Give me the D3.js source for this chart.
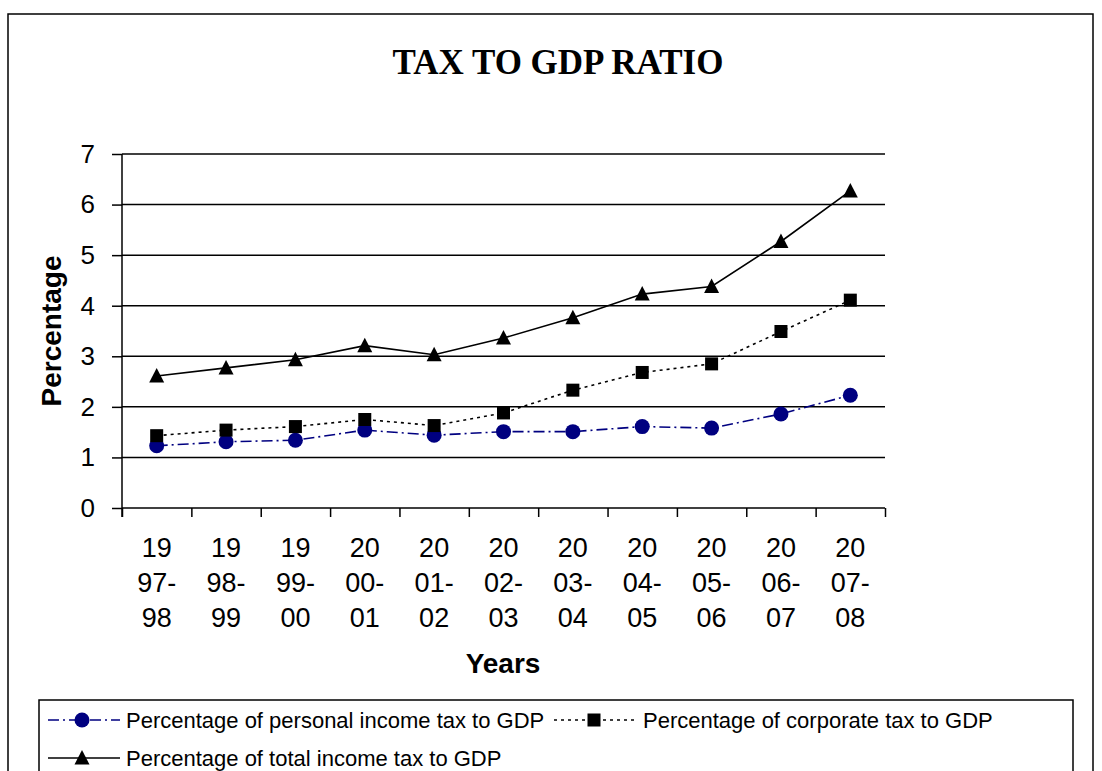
<!DOCTYPE html>
<html>
<head>
<meta charset="utf-8">
<script src="https://cdn.jsdelivr.net/npm/d3@7"></script>
<style>
  html, body { margin: 0; padding: 0; background: #fff; }
  svg { display: block; }
</style>
</head>
<body>
<svg id="chart" width="1102" height="771"></svg>
<script>
const title = "TAX TO GDP RATIO";
const categories = ["1997-98","1998-99","1999-00","2000-01","2001-02","2002-03","2003-04","2004-05","2005-06","2006-07","2007-08"];
const personalTax = [1.23, 1.31, 1.34, 1.54, 1.44, 1.51, 1.51, 1.61, 1.58, 1.86, 2.23];
const corporateTax = [1.43, 1.54, 1.61, 1.75, 1.63, 1.88, 2.33, 2.68, 2.85, 3.49, 4.11];
const totalTax = [2.61, 2.77, 2.93, 3.21, 3.03, 3.36, 3.76, 4.23, 4.38, 5.27, 6.27];
const yTicks = [0, 1, 2, 3, 4, 5, 6, 7];
const seriesNames = ["Percentage of personal income tax to GDP", "Percentage of corporate tax to GDP", "Percentage of total income tax to GDP"];
const xTitle = "Years";
const yTitle = "Percentage";

const svg = d3.select("#chart");
const plot = { left: 122, right: 885, top: 154, bottom: 508 };
const sans = "'Liberation Sans', Arial, sans-serif";

// outer chart border
svg.append("rect").attr("x", 8).attr("y", 14).attr("width", 1085).attr("height", 800)
  .attr("fill", "#fff").attr("stroke", "#000").attr("stroke-width", 1.5);

// title
svg.append("text").attr("x", 558).attr("y", 74).attr("text-anchor", "middle")
  .attr("font-family", "'Liberation Serif', 'Times New Roman', serif").attr("font-weight", "bold")
  .attr("font-size", 35).attr("fill", "#000").text(title);

const x = d3.scaleBand().domain(categories).range([plot.left, plot.right]).padding(0);
const cx = c => x(c) + x.bandwidth() / 2;
const y = d3.scaleLinear().domain([0, 7]).range([plot.bottom, plot.top]);

// gridlines
svg.append("g").selectAll("line").data(yTicks.filter(t => t > 0)).join("line")
  .attr("x1", plot.left).attr("x2", plot.right)
  .attr("y1", d => y(d)).attr("y2", d => y(d))
  .attr("stroke", "#000").attr("stroke-width", 1.5);

// y axis
const yAxis = svg.append("g").attr("transform", `translate(${plot.left},0)`)
  .call(d3.axisLeft(y).tickValues(yTicks).tickSize(10).tickPadding(17).tickFormat(d3.format("d")));
yAxis.select(".domain").attr("stroke", "#000").attr("stroke-width", 1.5)
  .attr("d", `M0,${plot.top}V${plot.bottom + 9}`);
yAxis.selectAll(".tick line").attr("stroke", "#000").attr("stroke-width", 1.5);
yAxis.selectAll(".tick text").attr("font-family", sans).attr("font-size", 26).attr("fill", "#000");

// x axis (category boundaries)
const xi = d3.scaleLinear().domain([0, categories.length]).range([plot.left, plot.right]);
const xAxis = svg.append("g").attr("transform", `translate(0,${plot.bottom})`)
  .call(d3.axisBottom(xi).tickValues(d3.range(0, categories.length + 1)).tickSize(9).tickFormat(""));
xAxis.select(".domain").attr("stroke", "#000").attr("stroke-width", 1.5)
  .attr("d", `M${plot.left},0H${plot.right}`);
xAxis.selectAll(".tick line").attr("stroke", "#000").attr("stroke-width", 1.5);

// x tick labels (three lines)
const xl = svg.append("g").selectAll("text").data(categories).join("text")
  .attr("x", d => cx(d)).attr("y", 557).attr("text-anchor", "middle")
  .attr("font-family", sans).attr("font-size", 27).attr("fill", "#000");
xl.each(function(d) {
  const parts = [d.slice(0, 2), d.slice(2, 5), d.slice(5)];
  const t = d3.select(this);
  parts.forEach((p, i) => {
    t.append("tspan").attr("x", cx(d)).attr("y", 557 + i * 35).text(p);
  });
});

// axis titles
svg.append("text").attr("x", 503).attr("y", 673).attr("text-anchor", "middle")
  .attr("font-family", sans).attr("font-weight", "bold").attr("font-size", 28).attr("fill", "#000").text(xTitle);
svg.append("text").attr("transform", "translate(61,331) rotate(-90)").attr("text-anchor", "middle")
  .attr("font-family", sans).attr("font-weight", "bold").attr("font-size", 28).attr("fill", "#000").text(yTitle);

// series
const navy = "#000080";
const series = [
  { name: seriesNames[0], values: personalTax, color: navy, dash: "11,4,2,4", marker: "circle" },
  { name: seriesNames[1], values: corporateTax, color: "#000", dash: "3,4", marker: "square" },
  { name: seriesNames[2], values: totalTax, color: "#000", dash: null, marker: "triangle" }
];
const line = d3.line().x((d, i) => cx(categories[i])).y(d => y(d));

function drawMarker(g, type, px, py, color) {
  if (type === "circle") {
    g.append("circle").attr("cx", px).attr("cy", py).attr("r", 7.5).attr("fill", color);
  } else if (type === "square") {
    g.append("rect").attr("x", px - 6.5).attr("y", py - 6.5).attr("width", 13).attr("height", 13).attr("fill", color);
  } else {
    g.append("path").attr("d", `M${px},${py - 8}L${px + 7.5},${py + 6.5}L${px - 7.5},${py + 6.5}Z`).attr("fill", color);
  }
}

series.forEach(s => {
  const g = svg.append("g");
  g.append("path").datum(s.values).attr("d", line).attr("fill", "none")
    .attr("stroke", s.color).attr("stroke-width", 1.6)
    .attr("stroke-dasharray", s.dash);
  s.values.forEach((v, i) => drawMarker(g, s.marker, cx(categories[i]), y(v), s.color));
});

// legend
svg.append("rect").attr("x", 39).attr("y", 700).attr("width", 1034).attr("height", 100)
  .attr("fill", "#fff").attr("stroke", "#000").attr("stroke-width", 1.5);
const legendPos = [
  { lx: 48, mx: 82, tx: 126, cy: 720 },
  { lx: 554, mx: 594, tx: 643, cy: 720 },
  { lx: 48, mx: 82, tx: 126, cy: 758 }
];
series.forEach((s, i) => {
  const p = legendPos[i];
  const g = svg.append("g");
  g.append("line").attr("x1", p.lx).attr("x2", p.tx - 6).attr("y1", p.cy).attr("y2", p.cy)
    .attr("stroke", s.color).attr("stroke-width", 1.6).attr("stroke-dasharray", s.dash);
  drawMarker(g, s.marker, p.mx, p.cy, s.color);
  g.append("text").attr("x", p.tx).attr("y", p.cy + 8).attr("font-family", sans)
    .attr("font-size", 22).attr("fill", "#000").text(s.name);
});
</script>
</body>
</html>
